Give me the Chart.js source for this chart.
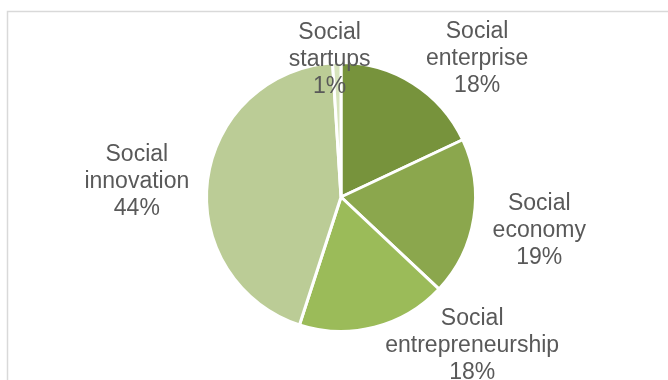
<!DOCTYPE html>
<html lang="en">
<head>
    <meta charset="UTF-8">
    <title>Social terms</title>
    <script src="https://cdn.jsdelivr.net/npm/chart.js"></script>
    <style>
        html, body { margin: 0; padding: 0; background: #fff; }
        #box { width: 668px; height: 380px; position: relative; }
    </style>
</head>
<body>
    <div id="box">
        <canvas id="pieChart" width="668" height="380"></canvas>
    </div>

<script>
    // shares of each term, clockwise from 12 o'clock
    const categorias = ['Social enterprise', 'Social economy', 'Social entrepreneurship', 'Social innovation', 'Social startups'];
    const valores = [18, 19, 18, 44, 1];
    const cores = ['#77933C', '#8BA74D', '#9BBB59', '#BBCC96', '#D7E4BD'];

    // small shifts of each label away from its slice direction
    const ajusteRotulo = [[28, 32], [-1, 2], [81, -47], [-4, 10], [-5, 64]];

    const moldura = {
        id: 'moldura',
        beforeDraw(chart) {
            const ctx = chart.ctx;
            ctx.save();
            ctx.strokeStyle = '#d9d9d9';
            ctx.lineWidth = 1.5;
            ctx.strokeRect(7.5, 11.5, 700, 400);
            ctx.restore();
        }
    };

    const rotulos = {
        id: 'rotulos',
        afterDraw(chart) {
            const ctx = chart.ctx;
            const meta = chart.getDatasetMeta(0);
            const total = valores.reduce((a, b) => a + b, 0);
            ctx.save();
            ctx.font = '23px "Liberation Sans", Arial, sans-serif';
            ctx.fillStyle = '#595959';
            ctx.textAlign = 'center';
            ctx.textBaseline = 'middle';
            meta.data.forEach((arco, i) => {
                const p = arco.getProps(['x', 'y', 'startAngle', 'endAngle', 'outerRadius'], true);
                const meio = (p.startAngle + p.endAngle) / 2;
                const dist = p.outerRadius * 1.5;
                const cx = p.x + Math.cos(meio) * dist + ajusteRotulo[i][0];
                const cy = p.y + Math.sin(meio) * dist + ajusteRotulo[i][1];
                const nome = categorias[i];
                const corte = nome.indexOf(' ');
                const linhas = [nome.slice(0, corte), nome.slice(corte + 1), Math.round(valores[i] / total * 100) + '%'];
                linhas.forEach((t, k) => {
                    ctx.fillText(t, cx, cy + (k - 1) * 27);
                });
            });
            ctx.restore();
        }
    };

    new Chart(document.getElementById('pieChart'), {
        type: 'pie',
        data: {
            labels: categorias,
            datasets: [{
                data: valores,
                backgroundColor: cores,
                borderColor: '#ffffff',
                borderWidth: 3
            }]
        },
        options: {
            responsive: false,
            animation: false,
            layout: {
                padding: { top: 61, bottom: 47, left: 200, right: 186 }
            },
            plugins: {
                legend: { display: false },
                tooltip: { enabled: false }
            }
        },
        plugins: [moldura, rotulos]
    });
</script>
</body>
</html>
